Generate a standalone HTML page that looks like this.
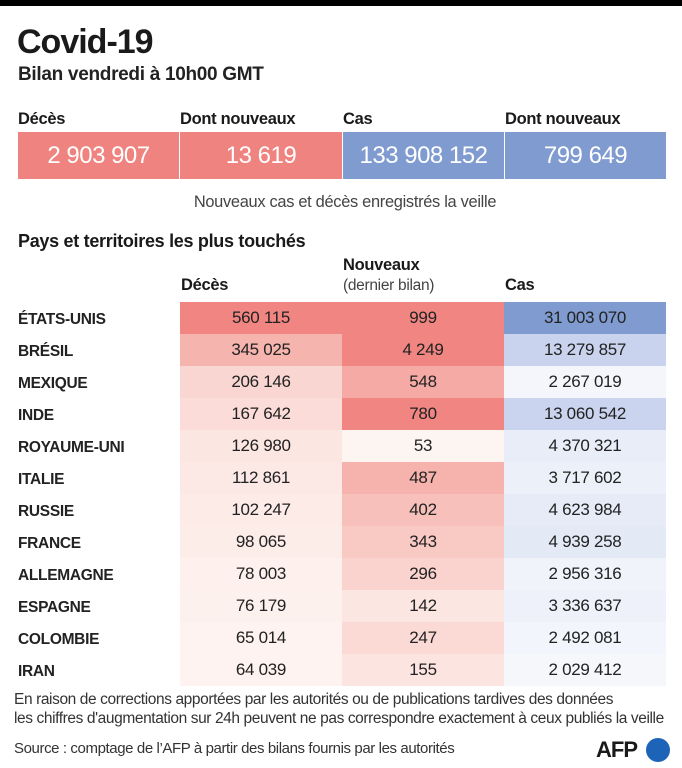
<!DOCTYPE html>
<html><head><meta charset="utf-8"><style>
*{margin:0;padding:0;box-sizing:border-box}
body{width:682px;height:768px;background:#fff;font-family:"Liberation Sans",sans-serif;color:#1a1a1a;position:relative;overflow:hidden;letter-spacing:-0.3px}
.a{position:absolute;white-space:nowrap}
.box{position:absolute;top:132px;height:47px;color:#fff;font-size:24px;display:flex;align-items:center;justify-content:center;letter-spacing:-0.5px}
.cell{position:absolute;height:32px;display:flex;align-items:center;justify-content:center;font-size:17px;color:#222}
.cn{position:absolute;left:18px;height:32px;padding-top:3px;display:flex;align-items:center;font-size:15.5px;font-weight:bold;color:#222}
.hd{font-size:16.5px;font-weight:bold}
</style></head><body>
<div class="a" style="left:0;top:0;width:682px;height:6px;background:#000"></div>
<div class="a" style="left:17px;top:23px;font-size:34px;font-weight:bold;letter-spacing:-1px">Covid-19</div>
<div class="a" style="left:18px;top:64px;font-size:19px;font-weight:bold;color:#222">Bilan vendredi à 10h00 GMT</div>
<div class="a hd" style="left:18px;top:110px">Décès</div>
<div class="a hd" style="left:180px;top:110px">Dont nouveaux</div>
<div class="a hd" style="left:343px;top:110px">Cas</div>
<div class="a hd" style="left:505px;top:110px">Dont nouveaux</div>
<div class="box" style="left:18px;width:161px;background:#ef837f">2 903 907</div>
<div class="box" style="left:180px;width:162px;background:#ef837f">13 619</div>
<div class="box" style="left:343px;width:161px;background:#7f9bd0">133 908 152</div>
<div class="box" style="left:505px;width:161px;background:#7f9bd0">799 649</div>
<div class="a" style="left:0;width:682px;text-align:center;top:193px;font-size:16.4px;color:#444;padding-left:8px">Nouveaux cas et décès enregistrés la veille</div>
<div class="a" style="left:18px;top:231px;font-size:18px;font-weight:bold">Pays et territoires les plus touchés</div>
<div class="a hd" style="left:181px;top:276px">Décès</div>
<div class="a hd" style="left:343px;top:256px">Nouveaux</div>
<div class="a" style="left:343px;top:277px;font-size:15.5px;color:#444">(dernier bilan)</div>
<div class="a hd" style="left:505px;top:276px">Cas</div>
<div id="t"></div>
<script>
var d=[["ÉTATS-UNIS","560 115","#f08582","999","#f08582","31 003 070","#7f9bd0"],
["BRÉSIL","345 025","#f5b4ae","4 249","#f08582","13 279 857","#c9d3ee"],
["MEXIQUE","206 146","#fad6d2","548","#f5aaa5","2 267 019","#f4f6fb"],
["INDE","167 642","#fbdcd8","780","#f08582","13 060 542","#cad4ee"],
["ROYAUME-UNI","126 980","#fce6e2","53","#fdf5f2","4 370 321","#e8edf8"],
["ITALIE","112 861","#fce9e6","487","#f6b3ad","3 717 602","#ecf0f9"],
["RUSSIE","102 247","#fdebe8","402","#f8c0bb","4 623 984","#e6ebf7"],
["FRANCE","98 065","#fdede9","343","#f9c9c4","4 939 258","#e4e9f6"],
["ALLEMAGNE","78 003","#fdf0ed","296","#fad3ce","2 956 316","#f0f3fa"],
["ESPAGNE","76 179","#fdf1ee","142","#fce6e2","3 336 637","#eef1f9"],
["COLOMBIE","65 014","#fef3f0","247","#fbdad6","2 492 081","#f2f5fb"],
["IRAN","64 039","#fef3f0","155","#fce4e0","2 029 412","#f5f7fb"]];
var h="";d.forEach(function(r,i){var y=302+i*32;
h+='<div class="cn" style="top:'+y+'px">'+r[0]+'</div>';
h+='<div class="cell" style="top:'+y+'px;left:180px;width:162px;background:'+r[2]+'">'+r[1]+'</div>';
h+='<div class="cell" style="top:'+y+'px;left:342px;width:162px;background:'+r[4]+'">'+r[3]+'</div>';
h+='<div class="cell" style="top:'+y+'px;left:504px;width:162px;background:'+r[6]+'">'+r[5]+'</div>';});
document.getElementById("t").innerHTML=h;
</script>
<div class="a" style="left:14px;top:690px;font-size:15.5px;color:#333;line-height:19px;letter-spacing:-0.4px">En raison de corrections apportées par les autorités ou de publications tardives des données<br>les chiffres d'augmentation sur 24h peuvent ne pas correspondre exactement à ceux publiés la veille</div>
<div class="a" style="left:14px;top:740px;font-size:15px;color:#333;letter-spacing:-0.4px">Source : comptage de l’AFP à partir des bilans fournis par les autorités</div>
<div class="a" style="left:596px;top:737px;font-size:22px;font-weight:bold;color:#1a1a1a;letter-spacing:-1px">AFP</div>
<div class="a" style="left:646px;top:738px;width:24px;height:24px;border-radius:50%;background:#1d63b8"></div>
</body></html>
